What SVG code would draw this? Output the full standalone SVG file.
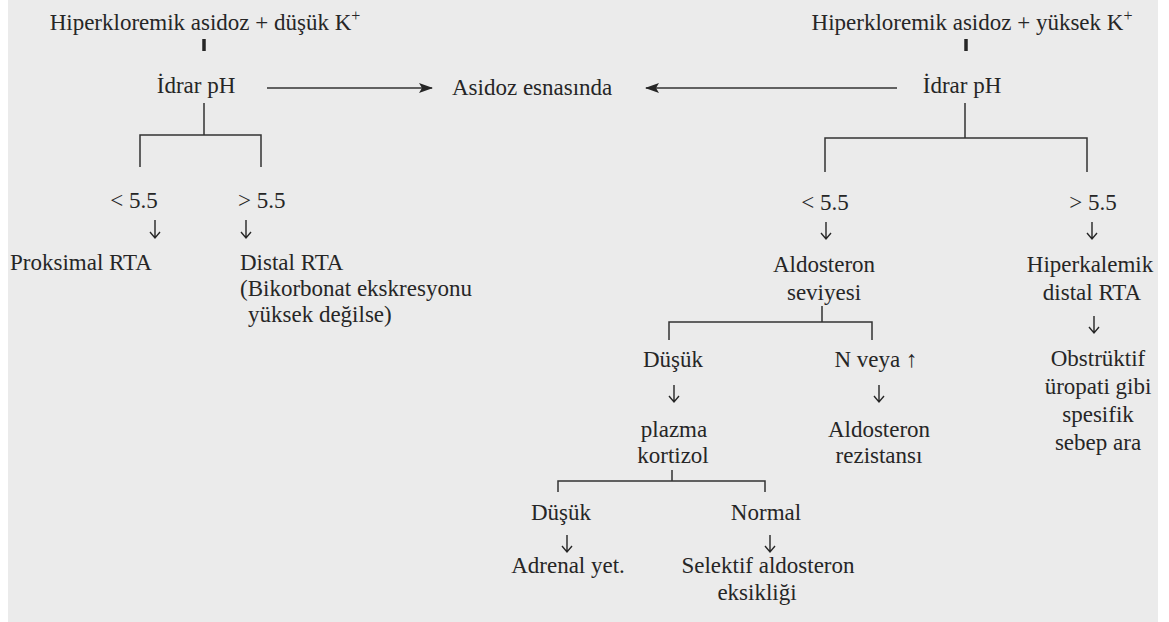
<svg xmlns="http://www.w3.org/2000/svg" width="1169" height="622" viewBox="0 0 1169 622">
<defs>
<style>
text{font-family:"Liberation Serif","Times New Roman",serif;font-size:23px;fill:#262626}
.m{text-anchor:middle}
.ln{stroke:#333333;stroke-width:1.5;fill:none}
.bar{stroke:#262626;stroke-width:3.5;fill:none}
.ha{stroke:#333333;stroke-width:1.5;fill:none;marker-end:url(#tri)}
</style>
<marker id="tri" viewBox="0 0 14 10" refX="13" refY="5" markerWidth="14" markerHeight="10" markerUnits="userSpaceOnUse" orient="auto">
<path d="M0,0 L14,5 L0,10 L3,5 Z" fill="#262626"/>
</marker>
</defs>
<rect width="1169" height="622" fill="#ffffff"/>
<rect x="8" y="0" width="1150" height="622" fill="#ebebeb"/>

<g id="connectors">
<line class="bar" x1="204" y1="39" x2="204" y2="51"/>
<line class="bar" x1="966" y1="39" x2="966" y2="51"/>
<line class="ha" x1="267" y1="88" x2="432" y2="88"/>
<line class="ha" x1="897" y1="88" x2="646" y2="88"/>
<path class="ln" d="M204,103 V135 M140,167 V135 H261 V167"/>
<path class="ln" d="M965,103 V138 M825,172 V138 H1087 V172"/>
<path class="ln" d="M822,306 V322 M669,340 V322 H872 V340"/>
<path class="ln" d="M672,470 V481 M558,492 V481 H765 V492"/>
<g stroke="#262626" stroke-width="1.4" fill="none">
<path d="M155,220 V238 M150,232 L155,238 L160,232"/>
<path d="M246,220 V238 M241,232 L246,238 L251,232"/>
<path d="M826,222 V239 M821,233 L826,239 L831,233"/>
<path d="M1092,222 V239 M1087,233 L1092,239 L1097,233"/>
<path d="M674,385 V402 M669,396 L674,402 L679,396"/>
<path d="M879,385 V402 M874,396 L879,402 L884,396"/>
<path d="M1094,316 V333 M1089,327 L1094,333 L1099,327"/>
<path d="M567,535 V552 M562,546 L567,552 L572,546"/>
<path d="M770,535 V552 M765,546 L770,552 L775,546"/>
</g>
</g>

<g id="n-top-left"><text class="m" x="205" y="30">Hiperkloremik asidoz + düşük K<tspan dy="-9" font-size="16">+</tspan></text></g>
<g id="n-idrar-left"><text class="m" x="196" y="93">İdrar pH</text></g>
<g id="n-asidoz"><text x="452" y="95">Asidoz esnasında</text></g>
<g id="n-top-right"><text class="m" x="972" y="30">Hiperkloremik asidoz + yüksek K<tspan dy="-9" font-size="16">+</tspan></text></g>
<g id="n-idrar-right"><text class="m" x="962" y="93">İdrar pH</text></g>

<g id="n-l-lt"><text class="m" x="134" y="208">&lt; 5.5</text></g>
<g id="n-l-gt"><text x="238" y="208">&gt; 5.5</text></g>
<g id="n-proksimal"><text x="10" y="270">Proksimal RTA</text></g>
<g id="n-distal"><text x="240" y="270">Distal RTA</text><text x="240" y="296">(Bikorbonat ekskresyonu</text><text x="248" y="322">yüksek değilse)</text></g>

<g id="n-r-lt"><text class="m" x="825" y="210">&lt; 5.5</text></g>
<g id="n-r-gt"><text class="m" x="1093" y="210">&gt; 5.5</text></g>
<g id="n-aldo"><text class="m" x="824" y="272">Aldosteron</text><text class="m" x="824" y="300">seviyesi</text></g>
<g id="n-hiperkalemik"><text class="m" x="1090" y="272">Hiperkalemik</text><text class="m" x="1092" y="300">distal RTA</text></g>
<g id="n-obstruktif"><text class="m" x="1098" y="366">Obstrüktif</text><text class="m" x="1098" y="394">üropati gibi</text><text class="m" x="1098" y="422">spesifik</text><text class="m" x="1098" y="450">sebep ara</text></g>

<g id="n-dusuk1"><text class="m" x="673" y="367">Düşük</text></g>
<g id="n-nveya"><text class="m" x="876" y="367">N veya ↑</text></g>
<g id="n-plazma"><text class="m" x="674" y="437">plazma</text><text class="m" x="673" y="463">kortizol</text></g>
<g id="n-rezistans"><text class="m" x="879" y="437">Aldosteron</text><text class="m" x="879" y="463">rezistansı</text></g>

<g id="n-dusuk2"><text class="m" x="561" y="520">Düşük</text></g>
<g id="n-normal"><text class="m" x="766" y="520">Normal</text></g>
<g id="n-adrenal"><text class="m" x="568" y="573">Adrenal yet.</text></g>
<g id="n-selektif"><text class="m" x="768" y="573">Selektif aldosteron</text><text class="m" x="757" y="600">eksikliği</text></g>
</svg>
